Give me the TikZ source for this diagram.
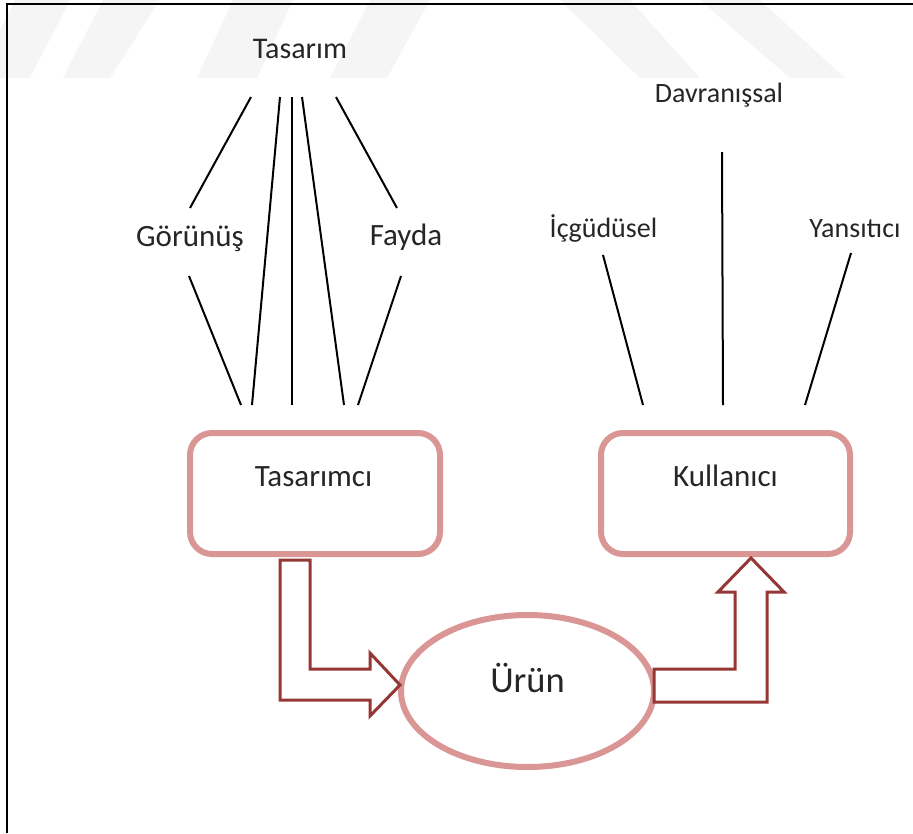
\documentclass[tikz,border=0pt]{standalone}
\usepackage{fontspec}
\setmainfont{Carlito}
\usetikzlibrary{shapes.geometric}
\definecolor{boxc}{HTML}{D99694}
\definecolor{arrc}{HTML}{953735}
\definecolor{txt}{HTML}{262626}
\definecolor{wm}{HTML}{F5F5F5}
\begin{document}
\begin{tikzpicture}[x=1pt,y=-1pt,
  lbl/.style={anchor=base, inner sep=0pt, text=txt, font=\fontsize{31}{37}\selectfont},
  sml/.style={anchor=base, inner sep=0pt, text=txt, font=\fontsize{28}{33}\selectfont},
  conn/.style={line width=2pt, black},
  box/.style={draw=boxc, line width=6pt, rounded corners=22pt, fill=white, rectangle, inner sep=0pt},
  bigarrow/.style={draw=arrc, line width=3pt, fill=white, line join=miter}]
\useasboundingbox (0,0) rectangle (913,833);
% watermark
\fill[wm] (15,0) -- (70,0) -- (30,78) -- (0,78) -- (0,30) -- cycle;
\fill[wm] (103,0) -- (160,0) -- (110,78) -- (63,78) -- cycle;
\fill[wm] (233,0) -- (293,0) -- (257,78) -- (197,78) -- cycle;
\fill[wm] (370,0) -- (430,0) -- (387,78) -- (330,78) -- cycle;
\fill[wm] (560,0) -- (630,0) -- (700,78) -- (640,78) -- cycle;
\fill[wm] (700,0) -- (760,0) -- (845,78) -- (790,78) -- cycle;
% frame
\draw[line width=2pt] (913,4) -- (7,4) -- (7,833);
% labels
\node[lbl, font=\fontsize{30}{36}\selectfont] (tasarim) at (300,58) {Tasarım};
\node[lbl] (gorunus) at (190,246) {Görünüş};
\node[lbl] (fayda) at (406,245) {Fayda};
\node[sml] (davran) at (719,102) {Davranışsal};
\node[sml] (icgu) at (603.5,237) {İçgüdüsel};
\node[sml] (yansi) at (855,237) {Yansıtıcı};
% boxes
\node[box, minimum width=250pt, minimum height=121pt] (tbox) at (315,493.5) {};
\node[lbl] (ttext) at (313.5,486) {Tasarımcı};
\node[box, minimum width=249pt, minimum height=121pt] (kbox) at (725.5,493.5) {};
\node[lbl] (ktext) at (725.5,486) {Kullanıcı};
\node[ellipse, draw=boxc, line width=6pt, fill=white, minimum width=253pt, minimum height=152pt, inner sep=0pt] (urun) at (527.5,691) {};
\node[lbl, font=\fontsize{36.5}{44}\selectfont] (utext) at (527.5,692) {Ürün};
% connector end points
\coordinate (a1) at (251,97);  \coordinate (a2) at (190,208);
\coordinate (b1) at (189,276); \coordinate (b2) at (241,405);
\coordinate (c1) at (280,97);  \coordinate (c2) at (252,405);
\coordinate (d1) at (292,97);  \coordinate (d2) at (292,405);
\coordinate (e1) at (302,97);  \coordinate (e2) at (344,405);
\coordinate (f1) at (336,97);  \coordinate (f2) at (397,208);
\coordinate (g1) at (401,276); \coordinate (g2) at (358,405);
\coordinate (h1) at (722,152); \coordinate (h2) at (723,405);
\coordinate (i1) at (603,255); \coordinate (i2) at (643,405);
\coordinate (j1) at (851,253); \coordinate (j2) at (805,405);
\foreach \p in {a,b,c,d,e,f,g,h,i,j} {\draw[conn] (\p1) -- (\p2);}
% block arrows
\draw[bigarrow] (280,560) -- (310,560) -- (310,669) -- (370,669) -- (370,653) -- (400,685)
  -- (370,716) -- (370,700) -- (280,700) -- cycle;
\draw[bigarrow] (654,669) -- (735,669) -- (735,592) -- (718,592) -- (751,558) -- (784,592)
  -- (767,592) -- (767,702) -- (654,702) -- cycle;
\end{tikzpicture}
\end{document}
